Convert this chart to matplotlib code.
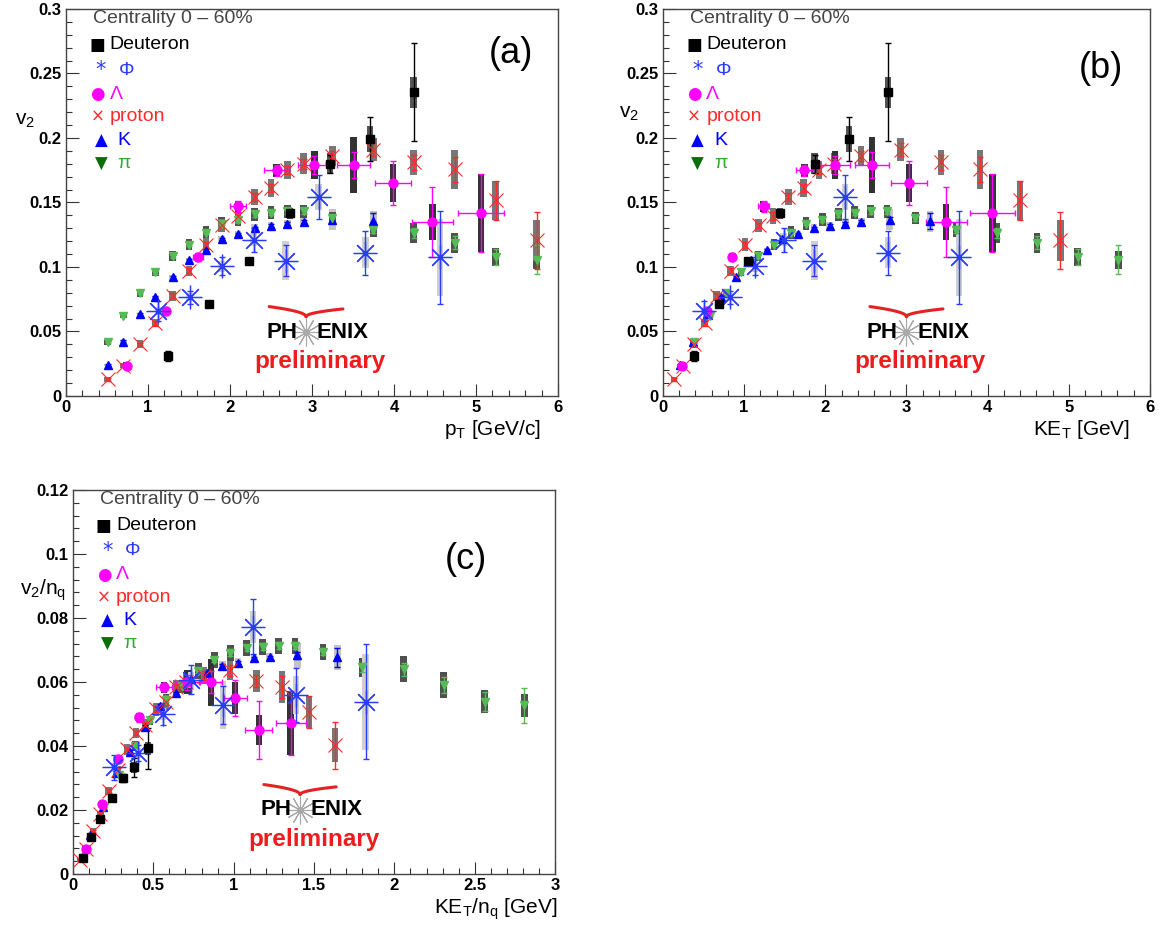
import numpy as np
import matplotlib
matplotlib.use('Agg')
import matplotlib.pyplot as plt
from matplotlib.ticker import MultipleLocator, FormatStrFormatter

plt.rcParams['font.family'] = ['Liberation Sans', 'DejaVu Sans']
plt.rcParams['mathtext.fontset'] = 'custom'
plt.rcParams['mathtext.rm'] = 'Liberation Sans'
plt.rcParams['mathtext.it'] = 'Liberation Sans'

######################## Data ##################################################
# deuteron
a_d_x = [1.25, 1.75, 2.23, 2.73, 3.22, 3.71, 4.24]
b_d_x = [0.38, 0.69, 1.05, 1.44, 1.87, 2.29, 2.77]
ab_d_y = [0.031, 0.0715, 0.1045, 0.1415, 0.180, 0.199, 0.2355]
c_d_x = [0.063, 0.11, 0.17, 0.24, 0.308, 0.381, 0.467]
c_d_y = [0.0050, 0.0116, 0.0173, 0.0237, 0.0300, 0.0333, 0.0393]
d_err = [0.004, 0.002, 0.002, 0.003, 0.007, 0.017, 0.038]
d_sys = [0.002, 0.002, 0.003, 0.004, 0.008, 0.010, 0.012]

# phi
a_phi_x = [1.12, 1.51, 1.90, 2.29, 2.68, 3.08, 3.65, 4.56]
b_phi_x = [0.505, 0.82, 1.135, 1.486, 1.865, 2.24, 2.77, 3.65]
ab_phi_y = [0.066, 0.0765, 0.1005, 0.121, 0.105, 0.1545, 0.111, 0.1075]
c_phi_x = [0.257, 0.404, 0.56, 0.735, 0.934, 1.12, 1.389, 1.821]
c_phi_y = [0.0333, 0.0378, 0.0500, 0.0607, 0.0529, 0.0773, 0.0560, 0.0539]
phi_err = [0.008, 0.005, 0.007, 0.009, 0.012, 0.017, 0.017, 0.036]
phi_sys = [0.003, 0.003, 0.004, 0.005, 0.015, 0.010, 0.012, 0.030]

# Lambda
a_lam_x = [0.74, 1.22, 1.61, 2.10, 2.57, 3.03, 3.51, 3.99, 4.47, 5.06]
a_lam_xerr = [0.0, 0.04, 0.06, 0.10, 0.15, 0.20, 0.20, 0.22, 0.25, 0.28]
b_lam_x = [0.234, 0.537, 0.851, 1.239, 1.743, 2.117, 2.577, 3.03, 3.49, 4.06]
b_lam_xerr = [0.0, 0.03, 0.04, 0.07, 0.10, 0.19, 0.21, 0.22, 0.25, 0.28]
ab_lam_y = [0.0236, 0.066, 0.1075, 0.147, 0.1749, 0.179, 0.179, 0.165, 0.1347, 0.1417]
c_lam_x = [0.078, 0.179, 0.28, 0.413, 0.565, 0.712, 0.857, 1.009, 1.156, 1.354]
c_lam_xerr = [0.0, 0.01, 0.015, 0.025, 0.05, 0.076, 0.07, 0.072, 0.084, 0.093]
c_lam_y = [0.0079, 0.0220, 0.0358, 0.0490, 0.0584, 0.0600, 0.0600, 0.0550, 0.0451, 0.0471]
lam_err = [0.002, 0.002, 0.003, 0.004, 0.004, 0.007, 0.010, 0.017, 0.027, 0.030]
lam_sys = [0.003, 0.002, 0.003, 0.004, 0.005, 0.011, 0.022, 0.015, 0.014, 0.030]

# proton
a_p_x = [0.51, 0.70, 0.905, 1.09, 1.30, 1.50, 1.71, 1.90, 2.10, 2.30, 2.50, 2.70, 2.90,
         3.25, 3.75, 4.24, 4.74, 5.24, 5.74]
b_p_x = [0.135, 0.243, 0.378, 0.514, 0.662, 0.833, 1.009, 1.18, 1.355, 1.545, 1.734, 1.923,
         2.108, 2.441, 2.928, 3.423, 3.905, 4.401, 4.896]
ab_p_y = [0.013, 0.0236, 0.0402, 0.0565, 0.0777, 0.0971, 0.1171, 0.1324, 0.1394, 0.1544,
          0.1611, 0.1749, 0.180, 0.186, 0.191, 0.181, 0.1756, 0.1516, 0.1207]
c_p_x = [0.045, 0.081, 0.126, 0.171, 0.221, 0.278, 0.336, 0.393, 0.45, 0.515, 0.578, 0.641,
         0.703, 0.814, 0.976, 1.141, 1.302, 1.467, 1.632]
c_p_y = [0.0043, 0.0079, 0.0134, 0.0188, 0.0259, 0.0324, 0.0390, 0.0441, 0.0465, 0.0515,
         0.0537, 0.0583, 0.0600, 0.0620, 0.0637, 0.0603, 0.0585, 0.0505, 0.0402]
p_err = [0.001, 0.001, 0.001, 0.002, 0.002, 0.002, 0.002, 0.002, 0.003, 0.003, 0.003, 0.003,
         0.004, 0.004, 0.005, 0.006, 0.010, 0.015, 0.022]
p_sys = [0.002, 0.002, 0.003, 0.003, 0.004, 0.004, 0.005, 0.005, 0.006, 0.006, 0.007, 0.007,
         0.008, 0.008, 0.009, 0.010, 0.015, 0.015, 0.016]

# kaon
a_k_x = [0.51, 0.70, 0.905, 1.09, 1.30, 1.50, 1.71, 1.90, 2.10, 2.30, 2.50, 2.70, 2.90, 3.25, 3.75]
b_k_x = [0.21, 0.37, 0.54, 0.71, 0.90, 1.083, 1.279, 1.472, 1.664, 1.861, 2.053, 2.249, 2.446,
         2.794, 3.289]
ab_k_y = [0.0241, 0.0422, 0.0632, 0.0764, 0.092, 0.1052, 0.113, 0.1218, 0.1256, 0.130, 0.1321,
          0.1337, 0.1352, 0.1368, 0.1355]
c_k_x = [0.105, 0.185, 0.27, 0.355, 0.45, 0.54, 0.64, 0.736, 0.832, 0.93, 1.027, 1.125, 1.223,
         1.397, 1.645]
c_k_y = [0.0121, 0.0211, 0.0316, 0.0382, 0.0460, 0.0526, 0.0565, 0.0609, 0.0628, 0.0650,
         0.0660, 0.0674, 0.0677, 0.0683, 0.0677]
k_err = [0.001, 0.001, 0.001, 0.001, 0.001, 0.001, 0.001, 0.001, 0.001, 0.001, 0.001, 0.001,
         0.001, 0.002, 0.006]
k_sys = [0.001, 0.001, 0.001, 0.001, 0.002, 0.002, 0.002, 0.002, 0.002, 0.003, 0.003, 0.003,
         0.003, 0.008, 0.008]

# pion
a_pi_x = [0.51, 0.70, 0.905, 1.09, 1.30, 1.50, 1.71, 1.90, 2.10, 2.30, 2.50, 2.70, 2.90,
          3.25, 3.75, 4.24, 4.74, 5.24, 5.74]
b_pi_x = [0.38, 0.574, 0.776, 0.96, 1.168, 1.366, 1.576, 1.765, 1.965, 2.16, 2.36, 2.56, 2.76,
          3.11, 3.61, 4.11, 4.61, 5.11, 5.61]
ab_pi_y = [0.0417, 0.0622, 0.0798, 0.0959, 0.1083, 0.1174, 0.1264, 0.1337, 0.1368, 0.1407,
           0.142, 0.1433, 0.1433, 0.138, 0.129, 0.1264, 0.1187, 0.1078, 0.1057]
c_pi_x = [0.19, 0.287, 0.385, 0.48, 0.58, 0.68, 0.78, 0.88, 0.98, 1.08, 1.18, 1.28, 1.38,
          1.557, 1.80, 2.057, 2.307, 2.561, 2.809]
c_pi_y = [0.0209, 0.0310, 0.0400, 0.0480, 0.0544, 0.0587, 0.0633, 0.0669, 0.0692, 0.0706,
          0.0711, 0.0714, 0.0714, 0.0695, 0.0646, 0.0640, 0.0591, 0.0539, 0.0527]
pi_err = [0.001, 0.001, 0.001, 0.001, 0.001, 0.001, 0.001, 0.001, 0.002, 0.002, 0.002, 0.002,
          0.002, 0.002, 0.003, 0.004, 0.005, 0.006, 0.011]
pi_sys = [0.002, 0.002, 0.003, 0.003, 0.004, 0.004, 0.005, 0.005, 0.005, 0.005, 0.005, 0.005,
          0.005, 0.005, 0.006, 0.008, 0.008, 0.007, 0.007]

# number of constituent quarks
nq_d, nq_phi, nq_lam, nq_p, nq_k, nq_pi = 6, 2, 3, 3, 2, 2

legend_labels = ['Deuteron', '\u03a6', '\u039b', 'proton', 'K', '\u03c0']

######################## Styles ############################
C_D, C_PHI, C_LAM, C_P, C_K, C_PI = 'black', '#2a3cff', '#ff00ff', '#ff2a2a', '#0000ff', '#55bb55'
S_D, S_PHI, S_LAM, S_P, S_K, S_PI = '#555555', '#cfcfcf', '#333333', '#777777', '#c4c4c4', '#505050'


def draw(ax, x, y, err, sys, color, marker, ms, sys_color, box_w, xerr=None, mew=1.0, scale=1.0):
    x = np.asarray(x)
    y = np.asarray(y)
    err = np.asarray(err) / scale
    sys = np.asarray(sys) / scale
    ax.bar(x, 2 * sys, bottom=y - sys, width=box_w, color=sys_color, linewidth=0, zorder=2)
    ax.errorbar(x, y, yerr=err, xerr=xerr, fmt='none', ecolor=color, elinewidth=1.0,
                capsize=2, capthick=1.0, zorder=3)
    ax.plot(x, y, linestyle='none', marker=marker, ms=ms, color=color, mew=mew, zorder=4)


def setup(ax, xmax, ymax, xmaj, xmin, ymaj, ymin):
    ax.set_xlim(0, xmax)
    ax.set_ylim(0, ymax)
    ax.xaxis.set_major_locator(MultipleLocator(xmaj))
    ax.xaxis.set_minor_locator(MultipleLocator(xmin))
    ax.yaxis.set_major_locator(MultipleLocator(ymaj))
    ax.yaxis.set_minor_locator(MultipleLocator(ymin))
    ax.xaxis.set_major_formatter(FormatStrFormatter('%g'))
    ax.yaxis.set_major_formatter(FormatStrFormatter('%g'))
    ax.tick_params(which='both', direction='in', top=False, right=False, width=0.8, color='#333333')
    ax.tick_params(which='major', length=9, labelsize=12, pad=3)
    ax.tick_params(which='minor', length=4.5)
    for lab in ax.get_xticklabels() + ax.get_yticklabels():
        lab.set_fontweight('bold')
    for s in ax.spines.values():
        s.set_color('#444444')
        s.set_linewidth(1.0)


def legend(ax):
    ax.text(0.055, 0.975, 'Centrality 0 \u2013 60%', transform=ax.transAxes, color='#444444',
            fontsize=14, va='center', ha='left')
    glyphs = ['\u25a0', '*', '\u25cf', '\u00d7', '\u25b2', '\u25bc']
    gcol = ['black', C_PHI, C_LAM, C_P, C_K, '#0a6e0a']
    tcol = ['black', C_PHI, C_LAM, C_P, C_K, '#33aa33']
    gx = [0.064, 0.071, 0.064, 0.064, 0.071, 0.071]
    tx = [0.089, 0.108, 0.089, 0.089, 0.105, 0.105]
    ys = [0.907, 0.842, 0.78, 0.721, 0.659, 0.60]
    for g, lab, gc, tc, x1, x2, yy in zip(glyphs, legend_labels, gcol, tcol, gx, tx, ys):
        ax.text(x1, yy, g, transform=ax.transAxes, color=gc, fontsize=12 if g != '*' else 15,
                ha='center', va='center', family=['DejaVu Sans'])
        ax.text(x2, yy, lab, transform=ax.transAxes, color=tc, fontsize=14, ha='left', va='center')


def phenix(ax, xs, ys):
    ax.text(xs - 0.018, ys, 'PH', transform=ax.transAxes, fontsize=16, fontweight='bold',
            ha='right', va='center')
    ax.text(xs + 0.022, ys, 'ENIX', transform=ax.transAxes, fontsize=16, fontweight='bold',
            ha='left', va='center')
    ax.plot([xs], [ys], transform=ax.transAxes, marker=(12, 2, 0), ms=20, mew=0.8,
            color='#a8a8a8', linestyle='none', clip_on=False)
    ax.text(xs + 0.028, ys - 0.077, 'preliminary', transform=ax.transAxes, fontsize=17.5,
            fontweight='bold', color='#ee1c1c', ha='center', va='center')
    # red swoosh above the logo: two arcs meeting in a point
    t = np.linspace(0, 1, 40)
    xl, xr, yc = xs - 0.075, xs + 0.075, ys + 0.040
    ax.plot(xs - (xs - xl) * (1 - t), yc + 0.026 * np.sqrt(1 - t), transform=ax.transAxes,
            color='#e52222', lw=2.2, solid_capstyle='round', clip_on=False)
    ax.plot(xs + (xr - xs) * (1 - t), yc + 0.020 * np.sqrt(1 - t), transform=ax.transAxes,
            color='#e52222', lw=2.2, solid_capstyle='round', clip_on=False)


fig = plt.figure(figsize=(11.59, 9.25), dpi=100)
ax_a = fig.add_axes([0.0569, 0.5719, 0.4245, 0.4184])
ax_b = fig.add_axes([0.5720, 0.5719, 0.4202, 0.4184])
ax_c = fig.add_axes([0.0630, 0.0551, 0.4159, 0.4151])

AST = (8, 2, 0)

######################## panel (a) ############################
ax = ax_a
setup(ax, 6, 0.3, 1, 0.2, 0.05, 0.01)
draw(ax, a_k_x, ab_k_y, k_err, k_sys, C_K, '^', 6, S_K, 0.08)
draw(ax, a_pi_x, ab_pi_y, pi_err, pi_sys, C_PI, 'v', 6, S_PI, 0.08)
draw(ax, a_p_x, ab_p_y, p_err, p_sys, C_P, 'x', 10, S_P, 0.08, mew=0.8)
draw(ax, a_lam_x, ab_lam_y, lam_err, lam_sys, C_LAM, 'o', 6.5, S_LAM, 0.08, xerr=a_lam_xerr)
draw(ax, a_phi_x, ab_phi_y, phi_err, phi_sys, C_PHI, AST, 17, S_PHI, 0.08, mew=0.9)
draw(ax, a_d_x, ab_d_y, d_err, d_sys, C_D, 's', 6, S_D, 0.08)
ax.text(0.965, -0.086, 'p$_{\\rm T}$ [GeV/c]', transform=ax.transAxes, fontsize=15, ha='right', va='center')
ax.text(-0.083, 0.713, 'v$_2$', transform=ax.transAxes, fontsize=15, ha='center', va='center')
ax.text(0.905, 0.885, '(a)', transform=ax.transAxes, fontsize=26, ha='center', va='center')
legend(ax)
phenix(ax, 0.488, 0.165)

######################## panel (b) ############################
ax = ax_b
setup(ax, 6, 0.3, 1, 0.2, 0.05, 0.01)
draw(ax, b_k_x, ab_k_y, k_err, k_sys, C_K, '^', 6, S_K, 0.08)
draw(ax, b_pi_x, ab_pi_y, pi_err, pi_sys, C_PI, 'v', 6, S_PI, 0.08)
draw(ax, b_p_x, ab_p_y, p_err, p_sys, C_P, 'x', 10, S_P, 0.08, mew=0.8)
draw(ax, b_lam_x, ab_lam_y, lam_err, lam_sys, C_LAM, 'o', 6.5, S_LAM, 0.08, xerr=b_lam_xerr)
draw(ax, b_phi_x, ab_phi_y, phi_err, phi_sys, C_PHI, AST, 17, S_PHI, 0.08, mew=0.9)
draw(ax, b_d_x, ab_d_y, d_err, d_sys, C_D, 's', 6, S_D, 0.08)
ax.text(0.96, -0.086, 'KE$_{\\rm T}$ [GeV]', transform=ax.transAxes, fontsize=15, ha='right', va='center')
ax.text(-0.07, 0.73, 'v$_2$', transform=ax.transAxes, fontsize=15, ha='center', va='center')
ax.text(0.9, 0.845, '(b)', transform=ax.transAxes, fontsize=26, ha='center', va='center')
legend(ax)
phenix(ax, 0.5, 0.165)

######################## panel (c) ############################
ax = ax_c
setup(ax, 3, 0.12, 0.5, 0.1, 0.02, 0.004)
draw(ax, c_k_x, c_k_y, k_err, k_sys, C_K, '^', 6, S_K, 0.04, scale=nq_k)
draw(ax, c_pi_x, c_pi_y, pi_err, pi_sys, C_PI, 'v', 6, S_PI, 0.04, scale=nq_pi)
draw(ax, c_p_x, c_p_y, p_err, p_sys, C_P, 'x', 10, S_P, 0.04, mew=0.8, scale=nq_p)
draw(ax, c_lam_x, c_lam_y, lam_err, lam_sys, C_LAM, 'o', 6.5, S_LAM, 0.04, xerr=c_lam_xerr, scale=nq_lam)
draw(ax, c_phi_x, c_phi_y, phi_err, phi_sys, C_PHI, AST, 17, S_PHI, 0.04, mew=0.9, scale=nq_phi)
draw(ax, c_d_x, c_d_y, d_err, d_sys, C_D, 's', 6, S_D, 0.04, scale=nq_d)
ax.text(1.005, -0.092, 'KE$_{\\rm T}$/n$_{\\rm q}$ [GeV]', transform=ax.transAxes, fontsize=15,
        ha='right', va='center')
ax.text(-0.062, 0.74, 'v$_2$/n$_{\\rm q}$', transform=ax.transAxes, fontsize=15, ha='center', va='center')
ax.text(0.815, 0.818, '(c)', transform=ax.transAxes, fontsize=26, ha='center', va='center')
legend(ax)
phenix(ax, 0.471, 0.167)

fig.savefig('out.png', dpi=100)
